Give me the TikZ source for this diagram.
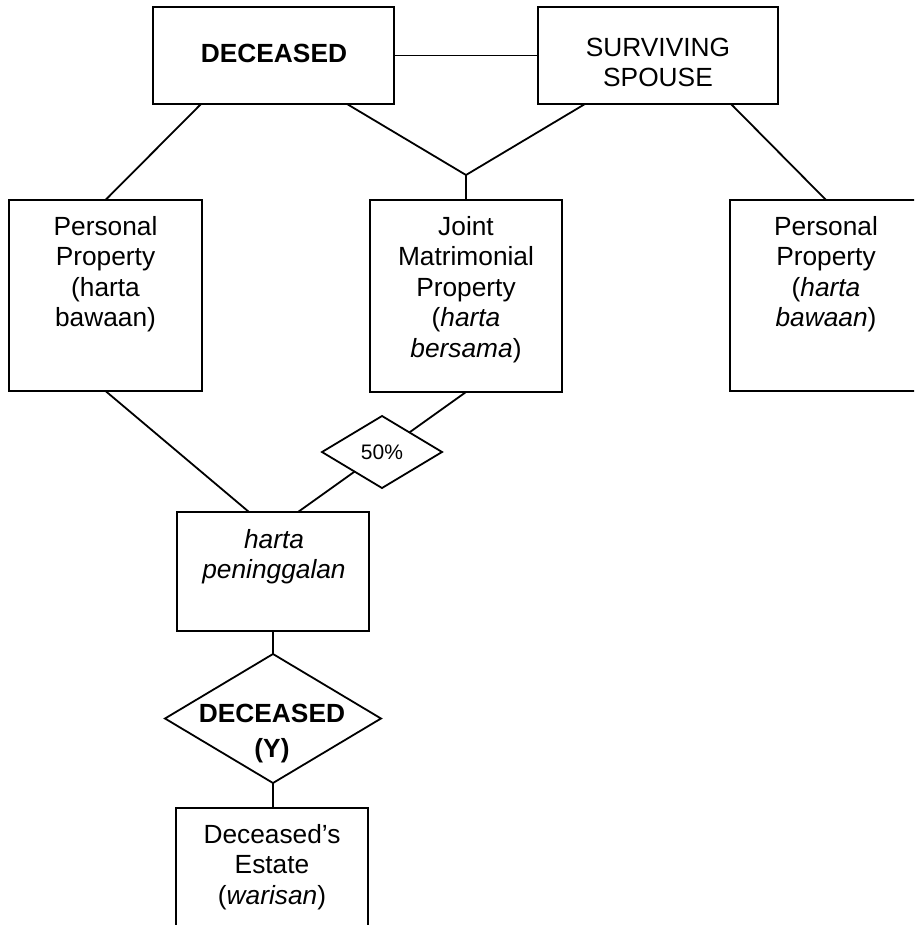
\documentclass[tikz,border=0pt]{standalone}
\usepackage{fontspec}
\setmainfont{Liberation Sans}
\usetikzlibrary{shapes.geometric}

\begin{document}
\begin{tikzpicture}[x=1pt,y=-1pt,
  every node/.style={inner sep=0pt, outer sep=0pt},
  box/.style={draw, line width=1.8pt, fill=white},
  rhomb/.style={draw, line width=1.8pt, fill=white, shape=diamond},
  link/.style={line width=1.8pt},
  label text/.style={anchor=north, align=center,
    font=\fontsize{26.3}{30.5}\selectfont},
  bold text/.style={anchor=north, align=center,
    font=\fontsize{26.3}{35}\selectfont\bfseries},
  small text/.style={font=\fontsize{21}{24}\selectfont}]

  % page frame
  \useasboundingbox (0,0) rectangle (914,925);
  \clip (0,0) rectangle (914,925);

  % boxes
  \node[box, minimum width=241, minimum height=97] (dec) at (273.5,55.5) {};
  \node[box, minimum width=240, minimum height=97] (sp)  at (658,55.5) {};
  \node[box, minimum width=193, minimum height=191] (pp1) at (105.5,295.5) {};
  \node[box, minimum width=192, minimum height=192] (jmp) at (466,296) {};
  \node[box, minimum width=192, minimum height=191] (pp2) at (826,295.5) {};
  \node[box, minimum width=192, minimum height=119] (hp)  at (273,571.5) {};
  \node[box, minimum width=192, minimum height=152] (est) at (272,884) {};

  % diamonds
  \node[rhomb, minimum width=120, minimum height=72, small text] (d50) at (382,452) {50\%};
  \node[rhomb, minimum width=216, minimum height=129] (dY) at (273,718.5) {};

  % junction under the couple
  \coordinate (jn) at (466,175);

  % connectors
  \draw[link] (dec.east) -- (sp.west);
  \draw[link] ([xshift=-72.5pt]dec.south) -- (pp1.north);
  \draw[link] ([xshift=73.5pt]dec.south) -- (jn);
  \draw[link] ([xshift=-73pt]sp.south) -- (jn);
  \draw[link] (jn) -- (jmp.north);
  \draw[link] ([xshift=73pt]sp.south) -- (pp2.north);
  \draw[link] (pp1.south) -- ([xshift=-24pt]hp.north);
  \draw[link] (jmp.south) -- (d50);
  \draw[link] (d50) -- ([xshift=25pt]hp.north);
  \draw[link] (hp.south) -- (dY.north);
  \draw[link] (dY.south) -- (dY.south |- est.north);

  % texts
  \node[label text, font=\fontsize{26.3}{30.5}\selectfont\bfseries] (dec-t) at (274,41) {\strut DECEASED};
  \node[label text] (sp-t) at (658,34.7) {\strut SURVIVING\\SPOUSE};
  \node[label text] (pp1-t) at (105.5,213.7) {\strut Personal\\Property\\(harta\\bawaan)};
  \node[label text] (jmp-t) at (466,213.7) {\strut Joint\\Matrimonial\\Property\\(\textit{harta}\\\textit{bersama})};
  \node[label text] (pp2-t) at (826,213.7) {\strut Personal\\Property\\(\textit{harta}\\\textit{bawaan})};
  \node[label text] (hp-t) at (274,526.7) {\strut\textit{harta}\\\textit{peninggalan}};
  \node[bold text] (dY-t) at (272,697.5) {\strut DECEASED\\(Y)};
  \node[label text] (est-t) at (272,821.7) {\strut Deceased’s\\Estate\\(\textit{warisan})};
\end{tikzpicture}
\end{document}
